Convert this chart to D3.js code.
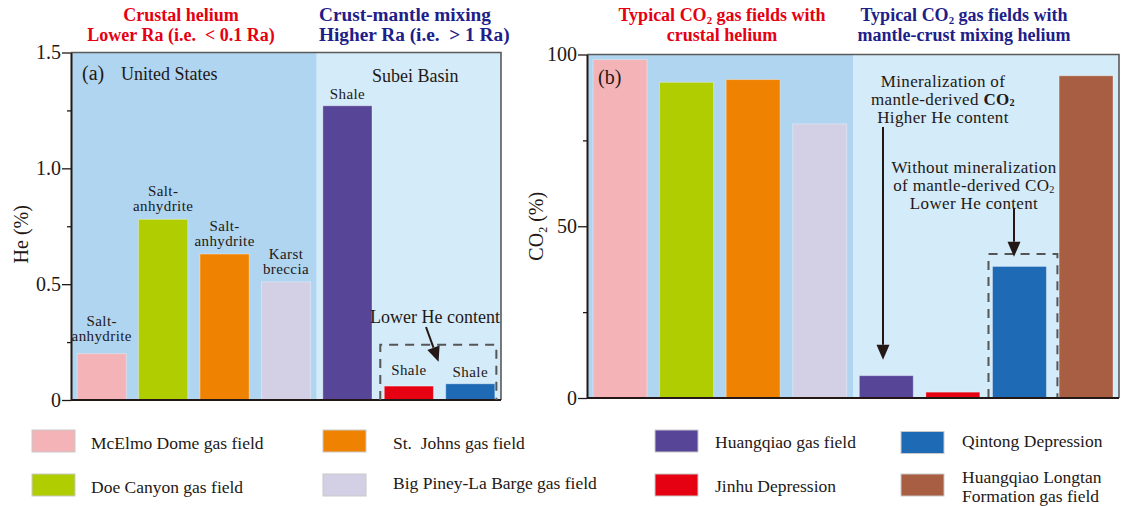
<!DOCTYPE html>
<html>
<head>
<meta charset="utf-8">
<script src="https://cdn.jsdelivr.net/npm/d3@7"></script>
<style>
  body { margin: 0; background: #fff; }
  svg text { font-family: "Liberation Serif", "Times New Roman", serif; fill: #231815; white-space: pre; }
</style>
</head>
<body>
<svg id="chart" width="1121" height="506"></svg>
<script>
// ---- data ----
const heFields = ["McElmo Dome gas field", "Doe Canyon gas field", "St.  Johns gas field",
  "Big Piney-La Barge gas field", "Huangqiao gas field", "Jinhu Depression", "Qintong Depression"];
const heValues = [0.20, 0.78, 0.63, 0.51, 1.27, 0.06, 0.07];
const heLithology = [["Salt-", "anhydrite"], ["Salt-", "anhydrite"], ["Salt-", "anhydrite"],
  ["Karst", "breccia"], ["Shale"], ["Shale"], ["Shale"]];

const co2Fields = heFields.concat(["Huangqiao Longtan Formation gas field"]);
const co2Values = [98.5, 91.9, 92.7, 79.8, 6.5, 1.7, 38.3, 93.8];

const fieldColors = ["#f4b3b6", "#afcd00", "#ef8200", "#d3cfe5", "#574597", "#e50012", "#1f6ab4", "#a85e42"];

const heTicks = [0, 0.5, 1.0, 1.5];
const heMinorTicks = [0.25, 0.75, 1.25];
const co2Ticks = [0, 50, 100];
const co2MinorTicks = [25, 75];

const legendColumns = [
  ["McElmo Dome gas field", "Doe Canyon gas field"],
  ["St.  Johns gas field", "Big Piney-La Barge gas field"],
  ["Huangqiao gas field", "Jinhu Depression"],
  ["Qintong Depression", "Huangqiao Longtan Formation gas field"]
];
const legendText = {
  "Huangqiao Longtan Formation gas field": ["Huangqiao Longtan", "Formation gas field"]
};

// ---- drawing ----
const svg = d3.select("#chart");
const INK = "#231815";
const DARK_BG = "#afd5f1", LIGHT_BG = "#d4ebf9";
const RED = "#e50012", NAVY = "#1d2088";
const color = d3.scaleOrdinal().domain(co2Fields).range(fieldColors);

const L = { x0: 71, x1: 501, y0: 400, y1: 52.5 };
const R = { x0: 587, x1: 1119, y0: 398, y1: 54.5 };

const xHe = d3.scaleBand().domain(heFields).range([L.x0, L.x1]).paddingInner(0.2).paddingOuter(0.1);
const yHe = d3.scaleLinear().domain([0, 1.5]).range([L.y0, L.y1]);
const xCo2 = d3.scaleBand().domain(co2Fields).range([R.x0, R.x1]).paddingInner(0.19).paddingOuter(0.09);
const yCo2 = d3.scaleLinear().domain([0, 100]).range([R.y0, R.y1]);

function panelBackground(g, P, x, splitField) {
  const split = x(splitField) + x.bandwidth() + x.step() * x.paddingInner() / 2;
  g.append("rect").attr("x", P.x0).attr("y", P.y1).attr("width", split - P.x0).attr("height", P.y0 - P.y1).attr("fill", DARK_BG);
  g.append("rect").attr("x", split).attr("y", P.y1).attr("width", P.x1 - split).attr("height", P.y0 - P.y1).attr("fill", LIGHT_BG);
}

function panelFrame(g, P, y, ticks, minor, fmt) {
  // top and right border
  g.append("path").attr("d", `M${P.x0},${P.y1}H${P.x1}V${P.y0}`)
    .attr("fill", "none").attr("stroke", "#5a5a5a").attr("stroke-width", 1.6);
  // x baseline
  g.append("line").attr("x1", P.x0).attr("x2", P.x1).attr("y1", P.y0).attr("y2", P.y0)
    .attr("stroke", INK).attr("stroke-width", 2);
  const ax = g.append("g").attr("transform", `translate(${P.x0},0)`)
    .call(d3.axisLeft(y).tickValues(ticks).tickSize(9).tickSizeOuter(0).tickPadding(1).tickFormat(fmt));
  ax.select(".domain").attr("stroke", INK).attr("stroke-width", 2);
  ax.selectAll(".tick line").attr("stroke", INK).attr("stroke-width", 1.3);
  ax.selectAll(".tick text").attr("font-size", 20).attr("font-family", "Liberation Serif").attr("fill", INK);
  const mx = g.append("g").attr("transform", `translate(${P.x0},0)`)
    .call(d3.axisLeft(y).tickValues(minor).tickSize(4).tickFormat(""));
  mx.select(".domain").remove();
  mx.selectAll(".tick line").attr("stroke", INK).attr("stroke-width", 1.3);
}

function arrow(g, x1, y1, x2, y2) {
  const a = Math.atan2(y2 - y1, x2 - x1), len = 15, half = 6.5;
  const bx = x2 - len * Math.cos(a), by = y2 - len * Math.sin(a);
  const nx = -Math.sin(a) * half, ny = Math.cos(a) * half;
  g.append("line").attr("x1", x1).attr("y1", y1).attr("x2", bx).attr("y2", by)
    .attr("stroke", INK).attr("stroke-width", 2);
  g.append("path").attr("d", `M${x2},${y2}L${bx + nx},${by + ny}L${bx - nx},${by - ny}Z`).attr("fill", INK);
}

function dashedBox(g, x0, x1, yTop, yBottom) {
  g.append("path").attr("d", `M${x0},${yBottom}V${yTop}H${x1}V${yBottom}`)
    .attr("fill", "none").attr("stroke", "#555").attr("stroke-width", 2).attr("stroke-dasharray", "9,7");
}

// multi-line text; each row is a string or a list of [text, options] parts
function lines(g, x, y0, rows, size, gap, anchor, weight, fill, spacing, subShift) {
  const shift = subShift == null ? 0.18 : subShift;
  rows.forEach((r, i) => {
    const t = g.append("text").attr("x", x).attr("y", y0 + i * gap)
      .attr("font-size", size).attr("text-anchor", anchor || "middle");
    if (weight) t.attr("font-weight", weight);
    if (fill) t.style("fill", fill);
    if (spacing) t.attr("letter-spacing", spacing);
    (Array.isArray(r) ? r : [[r]]).forEach(part => {
      const [txt, opt] = part;
      const s = t.append("tspan").text(txt);
      if (opt && opt.bold) s.attr("font-weight", "bold");
      if (opt && opt.sub) s.attr("font-size", size * 0.6).attr("dy", size * shift);
      if (opt && opt.back) s.attr("dy", -size * shift);
    });
  });
}

// ---------- panel (a): He content ----------
const ga = svg.append("g");
panelBackground(ga, L, xHe, heFields[3]);

ga.selectAll("rect.bar").data(heFields).join("rect").attr("class", "bar")
  .attr("x", d => xHe(d)).attr("width", xHe.bandwidth())
  .attr("y", (d, i) => yHe(heValues[i])).attr("height", (d, i) => yHe(0) - yHe(heValues[i]))
  .attr("fill", d => color(d)).attr("stroke", "rgba(255,255,255,0.35)").attr("stroke-width", 1);

// lithology labels above bars
const labelLift = [13, 8, 8, 8, 7, 9, 7];
heFields.forEach((f, i) => {
  const rows = heLithology[i];
  const top = (i >= 5) ? Math.min(yHe(heValues[5]), yHe(heValues[6])) : yHe(heValues[i]);
  const base = top - labelLift[i] - (rows.length - 1) * 15;
  lines(ga, xHe(f) + xHe.bandwidth() / 2, base, rows, 15, 15, "middle", null, null, 0.4);
});

panelFrame(ga, L, yHe, heTicks, heMinorTicks, d => d === 0 ? "0" : d3.format(".1f")(d));

ga.append("text").attr("transform", `translate(27.5,${(L.y0 + L.y1) / 2 + 8}) rotate(-90)`)
  .attr("text-anchor", "middle").attr("font-size", 20).text("He (%)");

ga.append("text").attr("x", 82).attr("y", 80).attr("font-size", 20).text("(a)");
ga.append("text").attr("x", 121).attr("y", 80).attr("font-size", 18).text("United States");
ga.append("text").attr("x", 372).attr("y", 82).attr("font-size", 18).text("Subei Basin");

// low-He Subei shale box
dashedBox(ga, xHe(heFields[5]) - 4, xHe(heFields[6]) + xHe.bandwidth() + 1.5, yHe(0.238), L.y0);
ga.append("text").attr("x", 435).attr("y", 323).attr("text-anchor", "middle").attr("font-size", 18).text("Lower He content");
arrow(ga, 426, 327, xHe(heFields[6]) - xHe.step() * xHe.paddingInner() / 2 - 1, yHe(0.165));

// headings
lines(ga, 181, 20.5, ["Crustal helium", "Lower Ra (i.e.  < 0.1 Ra)"], 18, 20, "middle", "bold", RED);
lines(ga, 319, 21, ["Crust-mantle mixing", "Higher Ra (i.e.  > 1 Ra)"], 19.3, 20, "start", "bold", NAVY);

// ---------- panel (b): CO2 content ----------
const gb = svg.append("g");
panelBackground(gb, R, xCo2, co2Fields[3]);

gb.selectAll("rect.bar").data(co2Fields).join("rect").attr("class", "bar")
  .attr("x", d => xCo2(d)).attr("width", xCo2.bandwidth())
  .attr("y", (d, i) => yCo2(co2Values[i])).attr("height", (d, i) => yCo2(0) - yCo2(co2Values[i]))
  .attr("fill", d => color(d)).attr("stroke", "rgba(255,255,255,0.35)").attr("stroke-width", 1);

// Qintong box
dashedBox(gb, xCo2(co2Fields[6]) - 4, xCo2(co2Fields[6]) + xCo2.bandwidth() + 11, yCo2(41.9), R.y0);

panelFrame(gb, R, yCo2, co2Ticks, co2MinorTicks, d3.format("d"));

const yl = gb.append("text").attr("transform", `translate(543,${(R.y0 + R.y1) / 2}) rotate(-90)`)
  .attr("text-anchor", "middle").attr("font-size", 20);
yl.append("tspan").text("CO");
yl.append("tspan").text("2").attr("font-size", 12).attr("dy", 4);
yl.append("tspan").text(" (%)").attr("dy", -4);

gb.append("text").attr("x", 598).attr("y", 83.5).attr("font-size", 20).text("(b)");

// annotations
lines(gb, 943, 86.5, [[["Mineralization of"]],
  [["mantle-derived "], ["CO", { bold: true }], ["2", { bold: true, sub: true }]],
  [["Higher He content"]]], 17, 18, "middle", null, null, 0.35, 0.1);
lines(gb, 974, 173, [[["Without mineralization"]],
  [["of mantle-derived CO"], ["2", { sub: true }]],
  [["Lower He content"]]], 17, 18, "middle", null, null, 0.35, 0.1);

arrow(gb, 883, 127, 883, yCo2(11.1));
arrow(gb, 1014, 208, 1014, yCo2(41.1));

lines(gb, 722, 20.5, [[["Typical CO"], ["2", { sub: true }], [" gas fields with", { back: true }]],
  [["crustal helium"]]], 18, 20, "middle", "bold", RED);
lines(gb, 964, 20.5, [[["Typical CO"], ["2", { sub: true }], [" gas fields with", { back: true }]],
  [["mantle-crust mixing helium"]]], 18, 20, "middle", "bold", NAVY);

// ---------- legend ----------
const legendX = [32, 323, 655, 901];
const legendTextX = [91, 393, 715, 962];
const legendRowY = [[430, 474], [430, 474], [430, 474], [431.5, 474]];
const legendBase = [[449, 493], [449, 489], [448, 492], [447, 482.5]];
const gl = svg.append("g");
legendColumns.forEach((col, c) => {
  col.forEach((f, r) => {
    gl.append("rect").attr("x", legendX[c]).attr("y", legendRowY[c][r]).attr("width", 43).attr("height", 22)
      .attr("fill", color(f)).attr("stroke", "#c9c9c9").attr("stroke-width", 1);
    const rows = legendText[f] || [f];
    lines(gl, legendTextX[c], legendBase[c][r], rows, 17.5, 19, "start");
  });
});
</script>
</body>
</html>
